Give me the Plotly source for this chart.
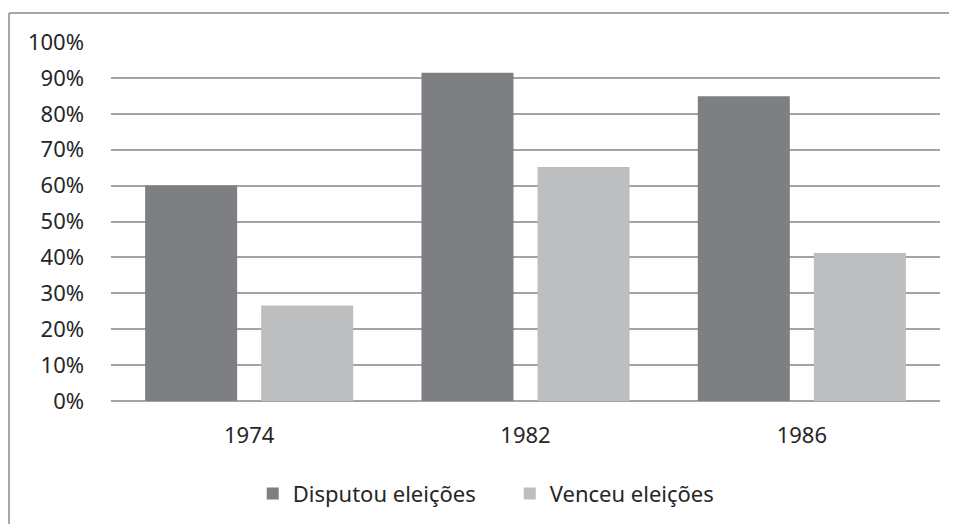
import plotly.graph_objects as go

categories = ["1974", "1982", "1986"]
disputou = [60.0, 91.4, 84.9]
venceu = [26.6, 65.2, 41.2]
tick_vals = [0, 10, 20, 30, 40, 50, 60, 70, 80, 90, 100]
tick_text = [f"{v}%" for v in tick_vals]

FONT = "Noto Sans"
TXT = "#262626"

fig = go.Figure()
fig.add_trace(go.Bar(name="Disputou eleições", x=categories, y=disputou,
                     marker=dict(color="#7e7f83", line=dict(width=0))))
fig.add_trace(go.Bar(name="Venceu eleições", x=categories, y=venceu,
                     marker=dict(color="#bdbec0", line=dict(width=0))))

fig.update_layout(
    width=957, height=524,
    margin=dict(l=103, r=25, t=34, b=131),
    paper_bgcolor="white", plot_bgcolor="white",
    barmode="group", bargap=0.16, bargroupgap=0.207,
    font=dict(family=FONT, size=22, color=TXT),
    showlegend=True,
    legend=dict(orientation="h", x=0.481, xanchor="center", y=-0.2, yanchor="top",
                font=dict(family=FONT, size=22, color=TXT), itemsizing="constant",
                traceorder="normal", entrywidth=212, entrywidthmode="pixels"),
    xaxis=dict(showgrid=False, showline=False, zeroline=False, ticks="",
               ticklabelstandoff=19, tickfont=dict(size=22)),
    yaxis=dict(range=[0, 100], tickvals=tick_vals, ticktext=tick_text,
               showgrid=True, gridcolor="#a3a3a3", gridwidth=2,
               zeroline=True, zerolinecolor="#a3a3a3", zerolinewidth=2,
               showline=False, ticks="", ticklabelstandoff=26,
               tickfont=dict(size=22)),
    shapes=[
        dict(type="line", xref="paper", yref="paper", x0=-0.123, x1=1.05, y0=1.081, y1=1.081,
             line=dict(color="#a6a6a6", width=2)),
        dict(type="line", xref="paper", yref="paper", x0=-0.123, x1=-0.123, y0=1.081, y1=-0.4,
             line=dict(color="#a6a6a6", width=2)),
    ],
)

fig.write_html("out.html")
